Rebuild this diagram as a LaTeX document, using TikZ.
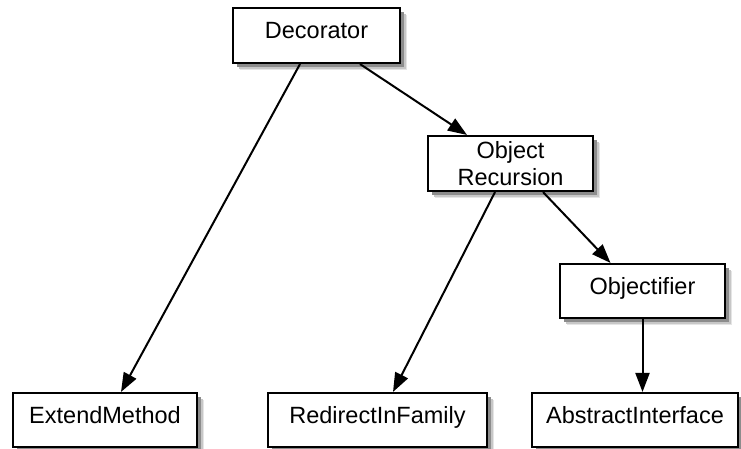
\documentclass[tikz,border=0pt]{standalone}
\usepackage{fontspec}
\setmainfont{Liberation Sans}
\usetikzlibrary{arrows.meta}
\begin{document}
\begin{tikzpicture}[x=1pt,y=-1pt,
  box/.style={draw=black, line width=2.1pt, fill=white, align=center,
    font=\fontsize{23.5}{27}\selectfont, inner sep=0pt},
  onebox/.style={box, text height=10pt, text depth=3.2pt},
  arr/.style={line width=2pt, -{Triangle[length=19pt,width=14pt]}}]
  \useasboundingbox (0,0) rectangle (741,448);

  % soft drop shadows, drawn first so the boxes cover them
  \foreach \cx/\cy/\w/\h in {316.5/35.5/167/55, 510.5/163.5/165/55, 642.5/291/165/54,
                          105/420/184/54, 377.5/420/219/54, 635/420/206/54}{
    \fill[black!10] (\cx-\w/2+6.5,\cy-\h/2+6.5) rectangle (\cx+\w/2+6.5,\cy+\h/2+6.5);
    \fill[black!22] (\cx-\w/2+5.5,\cy-\h/2+5.5) rectangle (\cx+\w/2+5.5,\cy+\h/2+5.5);
    \fill[black!45] (\cx-\w/2+4,\cy-\h/2+4) rectangle (\cx+\w/2+4,\cy+\h/2+4);
  }

  % class boxes
  \node[onebox, minimum width=167pt, minimum height=55pt] (dec) at (316.5,35.5) {Decorator};
  \node[box, minimum width=165pt, minimum height=55pt] (rec) at (510.5,163.5) {Object\\Recursion};
  \node[onebox, minimum width=165pt, minimum height=54pt] (obj) at (642.5,291) {Objectifier};
  \node[onebox, minimum width=184pt, minimum height=54pt] (ext) at (105,420) {ExtendMethod};
  \node[onebox, minimum width=219pt, minimum height=54pt] (red) at (377.5,420) {RedirectInFamily};
  \node[onebox, minimum width=206pt, minimum height=54pt] (abs) at (635,420) {AbstractInterface};

  % dependency arrows
  \draw[arr] ([xshift=-16.5pt]dec.south) -- ([xshift=16pt]ext.north);
  \draw[arr] ([xshift=43.5pt]dec.south) -- ([xshift=-43.5pt]rec.north);
  \draw[arr] ([xshift=-15.5pt]rec.south) -- ([xshift=15.5pt]red.north);
  \draw[arr] ([xshift=32.5pt]rec.south) -- ([xshift=-32pt]obj.north);
  \draw[arr] (obj.south) -- (obj.south |- abs.north);
\end{tikzpicture}
\end{document}
